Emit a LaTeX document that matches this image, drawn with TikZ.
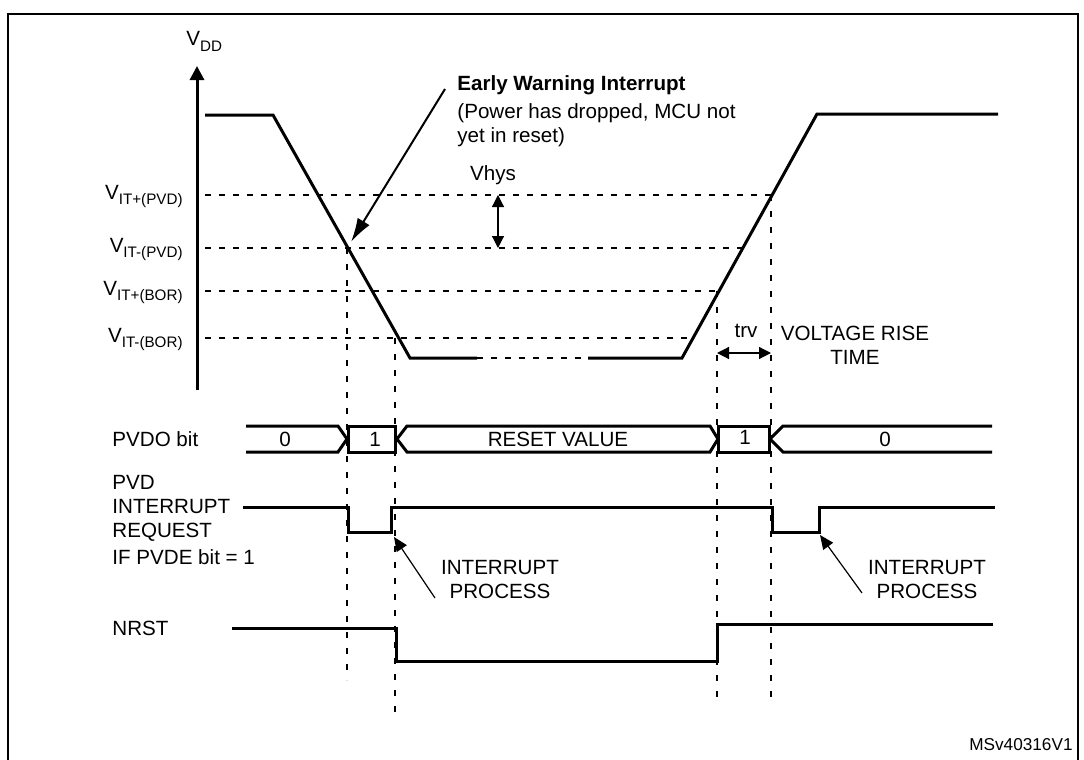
\documentclass[tikz,border=0pt]{standalone}
\usepackage{fontspec}
\setmainfont{Liberation Sans}
\usetikzlibrary{arrows.meta}
\newcommand\subt[1]{\raisebox{-0.25em}{\fontsize{7.6}{8}\selectfont #1}}
\begin{document}
\begin{tikzpicture}[x=0.5pt,y=-0.5pt,
  sig/.style={line width=1.5pt,line join=miter},
  hgrid/.style={line width=0.9pt,dash pattern=on 3pt off 4pt},
  vgrid/.style={line width=0.9pt,dash pattern=on 3pt off 5pt},
  lbl/.style={inner sep=0pt,font=\fontsize{10.3}{12}\selectfont},
  thinarr/.style={line width=0.6pt,-{Triangle[length=7pt,width=6pt]}},
  dblarr/.style={line width=0.6pt,{Triangle[length=6pt,width=6pt]}-{Triangle[length=6pt,width=6pt]}}]
\useasboundingbox (0,0) rectangle (1084,760);
% frame
\draw[line width=1pt] (8,762) -- (8,14) -- (1078,14) -- (1078,762);
% axis
\coordinate (axb) at (197,390);
\coordinate (axt) at (197,66);
\draw[line width=1.5pt,-{Triangle[length=7pt,width=7pt]}] (axb) -- (axt);
\node[lbl,anchor=base west] (vdd) at (186,46) {V\subt{DD}};
% threshold labels
\node[lbl,anchor=base east] (l1) at (183,199) {V\subt{IT+(PVD)}};
\node[lbl,anchor=base east] (l2) at (183,252) {V\subt{IT-(PVD)}};
\node[lbl,anchor=base east] (l3) at (183,295) {V\subt{IT+(BOR)}};
\node[lbl,anchor=base east] (l4) at (183,342) {V\subt{IT-(BOR)}};
% threshold rows
\draw[hgrid] (205,195) -- (772,195);
\draw[hgrid] (205,248) -- (743,248);
\draw[hgrid] (205,291) -- (720,291);
\draw[hgrid] (205,338) -- (692,338);
% VDD curve
\draw[sig] (205,115) -- (273,115) -- (410,358) -- (477,358);
\draw[hgrid] (477,358) -- (588,358);
\draw[sig] (588,358) -- (682,358) -- (817,114) -- (998,114);
% vertical markers
\draw[vgrid] (347,248) -- (347,680);
\draw[vgrid] (395,338) -- (395,718);
\draw[vgrid] (717,291) -- (717,700);
\draw[vgrid] (771,195) -- (771,705);
% Early warning
\node[lbl,anchor=west,font=\fontsize{10.3}{12}\selectfont\bfseries] (ew) at (457,85) {Early Warning Interrupt};
\node[lbl,anchor=west] (ew2) at (457,113) {(Power has dropped, MCU not};
\node[lbl,anchor=west] (ew3) at (457,137) {yet in reset)};
\coordinate (ews) at (445,89);
\coordinate (ewt) at (351,242);
\draw[line width=1pt,-{Latex[length=12pt,width=7pt]}] (ews) -- (ewt);
% Vhys
\node[lbl] (vhys) at (493,175) {Vhys};
\coordinate (vh1) at (498,195);
\coordinate (vh2) at (498,248);
\draw[dblarr] (vh1) -- (vh2);
% trv
\node[lbl] (trv) at (746,331) {trv};
\coordinate (tr1) at (717,353);
\coordinate (tr2) at (771,353);
\draw[dblarr] (tr1) -- (tr2);
\node[lbl,align=center] (vrise) at (855,345) {VOLTAGE RISE\\TIME};
% PVDO bit bus
\node[lbl,anchor=west] (pvdo) at (112,439) {PVDO bit};
\draw[sig] (246,426) -- (338,426) -- (347,439) -- (338,452) -- (246,452);
\draw[sig] (348,426) rectangle (395,452);
\draw[sig] (397,439) -- (407,426) -- (710,426) -- (718,439) -- (710,452) -- (407,452) -- cycle;
\draw[sig] (718,426) rectangle (769,452);
\draw[sig] (992,426) -- (783,426) -- (770,439) -- (783,452) -- (992,452);
\node[lbl] (b0a) at (285,439) {0};
\node[lbl] (b1a) at (375,439) {1};
\node[lbl] (brv) at (558,439) {RESET VALUE};
\node[lbl] (b1b) at (745,437) {1};
\node[lbl] (b0b) at (885,439) {0};
% PVD interrupt
\node[lbl,anchor=west] (p1) at (112,482) {PVD};
\node[lbl,anchor=west] (p2) at (112,507) {INTERRUPT};
\node[lbl,anchor=west] (p3) at (112,532) {REQUEST};
\node[lbl,anchor=west] (p4) at (112,557) {IF PVDE bit = 1};
\draw[sig] (243,507) -- (348,507) -- (348,532) -- (391,532) -- (391,507) -- (772,507) -- (772,532) -- (819,532) -- (819,507) -- (995,507);
\node[lbl,align=center] (ip1) at (500,580) {INTERRUPT\\PROCESS};
\node[lbl,align=center] (ip2) at (927,580) {INTERRUPT\\PROCESS};
\coordinate (ia1) at (435,598);
\coordinate (it1) at (394,537);
\coordinate (ia2) at (862,593);
\coordinate (it2) at (820,535);
\draw[thinarr] (ia1) -- (it1);
\draw[thinarr] (ia2) -- (it2);
% NRST
\node[lbl,anchor=west] (nrst) at (112,628) {NRST};
\draw[sig] (232,628) -- (396,628) -- (396,661) -- (717,661) -- (717,624) -- (993,624);
% id
\node[lbl,font=\fontsize{8.6}{10}\selectfont,anchor=east] (id) at (1073,745) {MSv40316V1};
\end{tikzpicture}
\end{document}
